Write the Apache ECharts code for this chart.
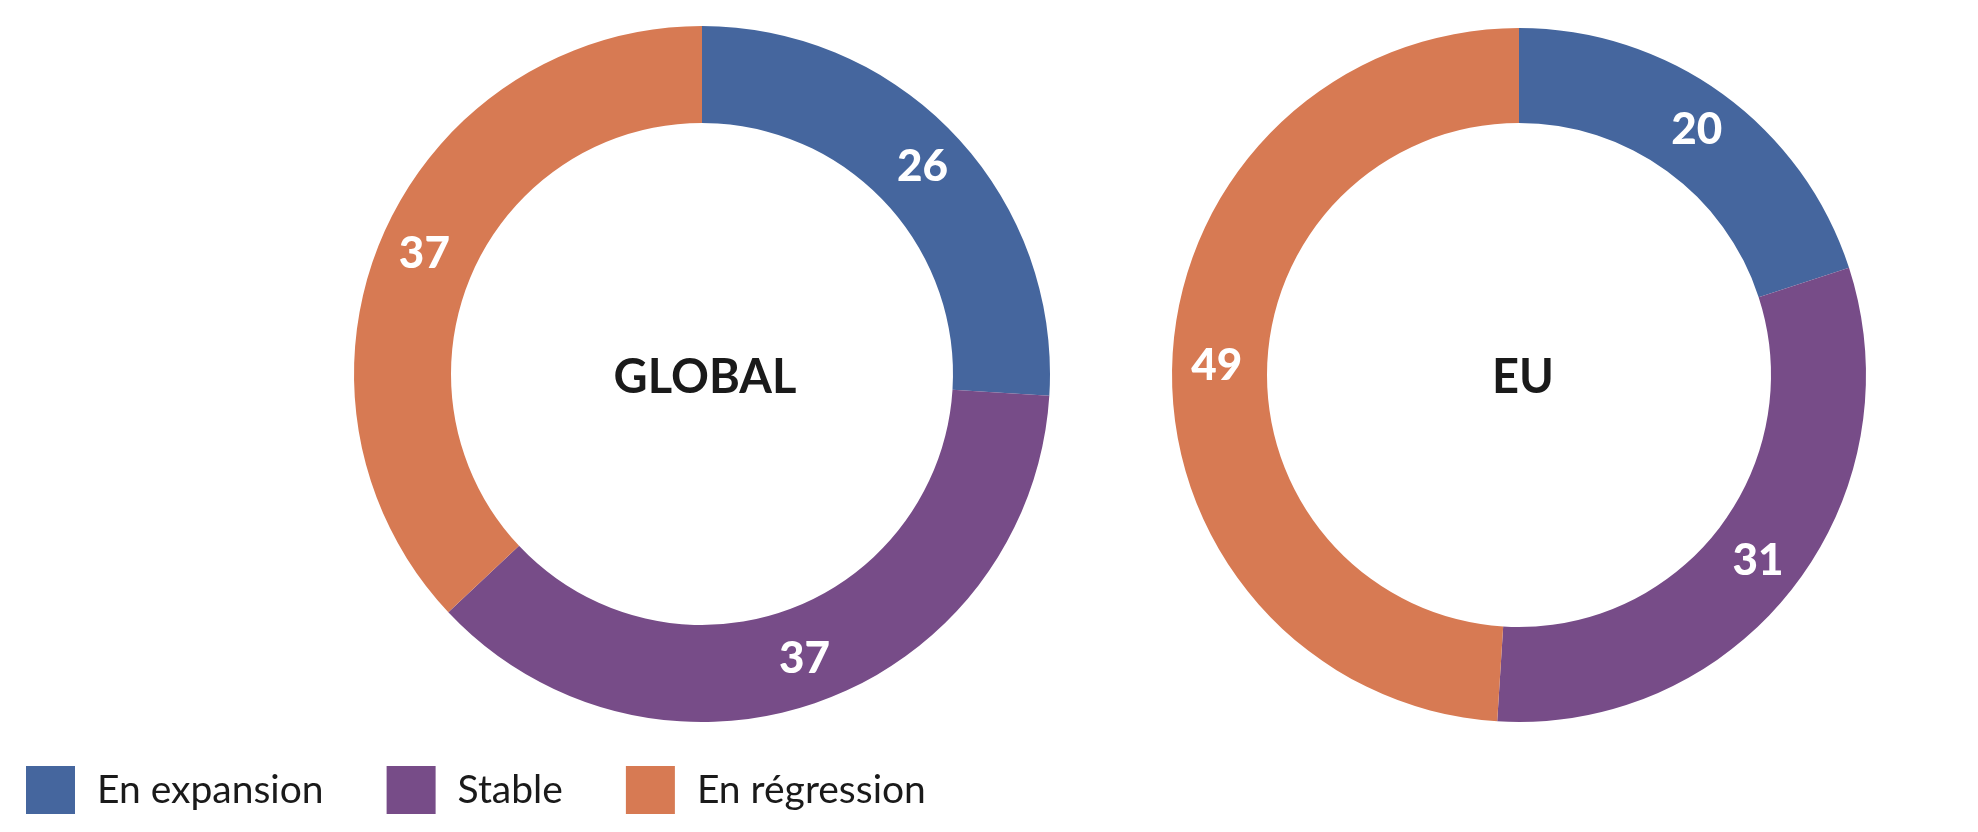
<!DOCTYPE html>
<html>
<head>
<meta charset="utf-8">
<script src="https://cdn.jsdelivr.net/npm/echarts@6/dist/echarts.min.js"></script>
<style>
html,body{margin:0;padding:0;background:#ffffff;}
#chart{width:1978px;height:832px;}
</style>
</head>
<body>
<div id="chart"></div>
<script>
var categories = ['En expansion', 'Stable', 'En régression'];
var globalValues = [26, 37, 37];
var euValues = [20, 31, 49];
var chartTitles = ['GLOBAL', 'EU'];
var colors = ['#45669E', '#774C88', '#D77A53'];

function toData(values) {
  return categories.map(function (c, i) { return { name: c, value: values[i] }; });
}

var FONT = 'Lato, "Noto Sans", sans-serif';
var labelStyle = {
  show: true,
  position: 'inside',
  formatter: '{c}',
  color: '#ffffff',
  fontFamily: FONT,
  fontWeight: 900,
  fontSize: 44
};

var chart = echarts.init(document.getElementById('chart'), null, { renderer: 'canvas' });
chart.setOption({
  backgroundColor: '#ffffff',
  color: colors,
  animation: false,
  title: [
    { text: chartTitles[0], left: 700, top: 373, textAlign: 'center', textVerticalAlign: 'middle',
      textStyle: { fontFamily: FONT, fontWeight: 'bold', fontSize: 47, color: '#1a1a1a' } },
    { text: chartTitles[1], left: 1518, top: 373, textAlign: 'center', textVerticalAlign: 'middle',
      textStyle: { fontFamily: FONT, fontWeight: 'bold', fontSize: 47, color: '#1a1a1a' } }
  ],
  legend: {
    data: categories,
    left: 21,
    top: 761,
    orient: 'horizontal',
    itemWidth: 49,
    itemHeight: 48,
    itemGap: 63,
    icon: 'rect',
    textStyle: { fontFamily: FONT, fontSize: 39, color: '#1a1a1a', padding: [0, 0, 0, 17] }
  },
  series: [
    {
      type: 'pie',
      center: [702, 374],
      radius: [251, 348],
      startAngle: 90,
      clockwise: true,
      avoidLabelOverlap: false,
      label: labelStyle,
      labelLine: { show: false },
      itemStyle: { borderWidth: 0 },
      emphasis: { disabled: true },
      data: toData(globalValues)
    },
    {
      type: 'pie',
      center: [1519, 375],
      radius: [252, 347],
      startAngle: 90,
      clockwise: true,
      avoidLabelOverlap: false,
      label: labelStyle,
      labelLine: { show: false },
      itemStyle: { borderWidth: 0 },
      emphasis: { disabled: true },
      data: toData(euValues)
    }
  ]
});
</script>
</body>
</html>
